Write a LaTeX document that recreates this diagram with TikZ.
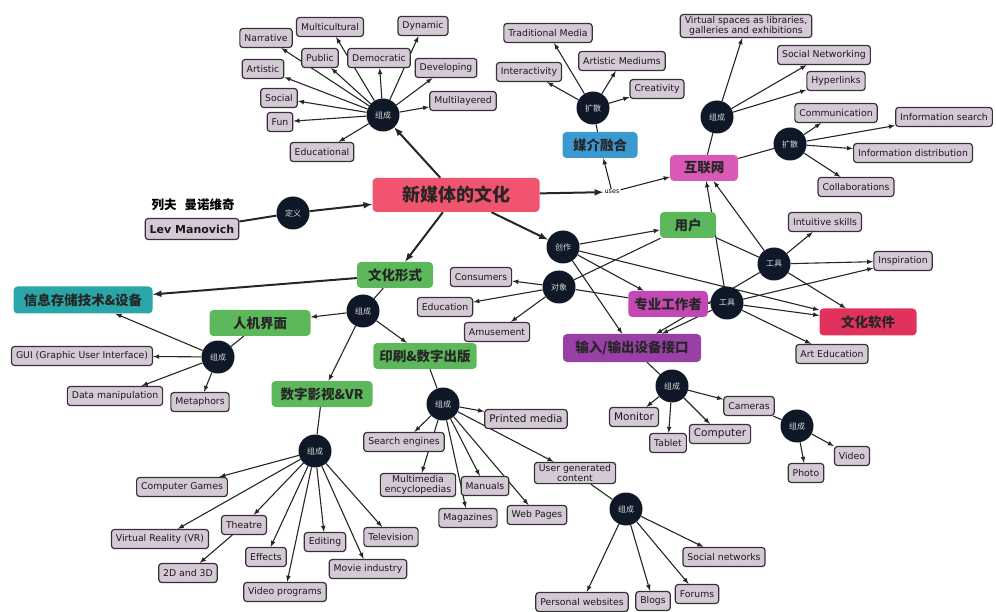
\documentclass[tikz,border=0pt]{standalone}
\usepackage{fontspec}
\setmainfont{DejaVu Sans}
\newfontfamily\cjk{Noto Sans CJK SC}
\usetikzlibrary{arrows}
\pgfdeclarelayer{background}
\pgfsetlayers{background,main}

\definecolor{leafgray}{RGB}{214,201,215}
\definecolor{hubnavy}{RGB}{14,24,38}
\definecolor{corered}{RGB}{240,84,110}
\definecolor{mediablue}{RGB}{58,154,208}
\definecolor{netpink}{RGB}{218,88,182}
\definecolor{formgreen}{RGB}{92,184,90}
\definecolor{storeteal}{RGB}{42,166,168}
\definecolor{promagenta}{RGB}{196,72,180}
\definecolor{iopurple}{RGB}{152,64,166}
\definecolor{softcrimson}{RGB}{224,50,92}

\begin{document}
\begin{tikzpicture}[x=1pt,y=-1pt,
    leaf/.style={draw=black!80, line width=1.2pt, fill=leafgray, rounded corners=3pt,
        font=\fontsize{9.3}{10}\selectfont, text=black!90, inner xsep=4.5pt, inner ysep=2pt,
        minimum height=19pt, align=center},
    bigleaf/.style={leaf, font=\fontsize{10.5}{11}\selectfont},
    hub/.style={circle, fill=hubnavy, minimum size=33pt, inner sep=0pt,
        text=white!72!gray, font=\cjk\fontsize{8}{8}\selectfont},
    topic/.style={fill=#1, rounded corners=4pt, minimum height=26pt, inner xsep=6pt,
        font=\cjk\bfseries\fontsize{13.5}{14}\selectfont, text=black!85},
    arr/.style={-latex, line width=1.1pt, draw=black!85},
    bigarr/.style={-latex, line width=2pt, draw=black!85},
    tie/.style={line width=1.1pt, draw=black!85}]

\useasboundingbox (0,0) rectangle (996,612);

% central concept
\node[topic=corered, minimum width=167pt, minimum height=34pt,
      font=\cjk\bfseries\fontsize{18}{19}\selectfont] (nmc) at (456,195) {新媒体的文化};

% definition
\node[font=\cjk\bfseries\fontsize{12.5}{13}\selectfont] (levcn) at (193,205) {列夫\hspace{8pt}曼诺维奇};
\node[leaf, font=\bfseries\fontsize{11}{12}\selectfont, minimum height=21pt] (lev) at (192,229) {Lev Manovich};
\node[hub] (dy) at (293,213) {定义};

% upper composition
\node[hub] (zcTop) at (383,115) {组成};
\node[leaf] (narr) at (266,38) {Narrative};
\node[leaf] (mcul) at (330,27) {Multicultural};
\node[leaf] (dyna) at (423,26) {Dynamic};
\node[leaf] (publ) at (320,58) {Public};
\node[leaf] (demo) at (379,58) {Democratic};
\node[leaf] (arti) at (263,69) {Artistic};
\node[leaf] (deve) at (446,68) {Developing};
\node[leaf] (soci) at (279,98) {Social};
\node[leaf] (mlay) at (463,101) {Multilayered};
\node[leaf] (fun) at (280,122) {Fun};
\node[leaf] (educ) at (322,152) {Educational};

% media convergence
\node[font=\fontsize{6.5}{7}\selectfont, inner sep=1pt] (uses) at (612,192) {uses};
\node[topic=mediablue, minimum width=75pt] (mjrh) at (600,145) {媒介融合};
\node[hub] (ksMedia) at (593,108) {扩散};
\node[leaf] (trad) at (548,33) {Traditional Media};
\node[leaf] (intr) at (529,72) {Interactivity};
\node[leaf] (amed) at (622,61) {Artistic Mediums};
\node[leaf] (crea) at (657,89) {Creativity};

% internet
\node[topic=netpink, minimum width=68pt] (hlw) at (704,168) {互联网};
\node[hub] (zcNet) at (717,117) {组成};
\node[leaf] (vspc) at (746,26) {Virtual spaces as libraries,\\galleries and exhibitions};
\node[leaf] (snet) at (824,55) {Social Networking};
\node[leaf] (hypl) at (836,81) {Hyperlinks};
\node[hub] (ksNet) at (790,144) {扩散};
\node[leaf] (comm) at (836,113) {Communication};
\node[leaf] (isea) at (944,117) {Information search};
\node[leaf] (idis) at (913,153) {Information distribution};
\node[leaf] (coll) at (856,187) {Collaborations};

% cultural forms
\node[topic=formgreen, minimum width=76pt] (whxs) at (395,275) {文化形式};
\node[topic=storeteal, minimum width=139pt, minimum height=27pt] (xxcc) at (83,300) {信息存储技术\&设备};
\node[hub] (zcForm) at (363,311) {组成};
\node[topic=formgreen, minimum width=101pt] (rjjm) at (260,323) {人机界面};
\node[topic=formgreen, minimum width=101pt] (yscb) at (425,356) {印刷\&数字出版};
\node[topic=formgreen, minimum width=101pt] (szys) at (322,394) {数字影视\&VR};

% interface
\node[hub] (zcHci) at (218,357) {组成};
\node[leaf] (gui) at (82,356) {GUI (Graphic User Interface)};
\node[leaf] (datm) at (115,396) {Data manipulation};
\node[leaf] (meta) at (200,402) {Metaphors};

% film and VR
\node[hub] (zcFilm) at (315,451) {组成};
\node[leaf] (cgam) at (182,487) {Computer Games};
\node[leaf] (vr) at (160,539) {Virtual Reality (VR)};
\node[leaf] (thea) at (244,525) {Theatre};
\node[leaf] (twod) at (188,573) {2D and 3D};
\node[leaf] (effe) at (266,557) {Effects};
\node[leaf] (edit) at (325,542) {Editing};
\node[leaf] (tele) at (391,537) {Television};
\node[leaf] (movi) at (368,569) {Movie industry};
\node[leaf] (vidp) at (285,592) {Video programs};

% publishing
\node[hub] (zcPub) at (443,404) {组成};
\node[bigleaf] (prin) at (526,419) {Printed media};
\node[leaf] (sear) at (404,442) {Search engines};
\node[leaf] (mmen) at (418,485) {Multimedia\\encyclopedias};
\node[leaf] (manu) at (485,486) {Manuals};
\node[leaf] (maga) at (468,518) {Magazines};
\node[leaf] (webp) at (537,515) {Web Pages};
\node[leaf] (ugc) at (575,473) {User generated\\content};
\node[hub] (zcUgc) at (626,509) {组成};
\node[leaf] (pweb) at (582,602) {Personal websites};
\node[leaf] (blog) at (653,601) {Blogs};
\node[leaf] (foru) at (697,594) {Forums};
\node[leaf] (sntw) at (724,557) {Social networks};

% creation side
\node[hub] (cz) at (563,247) {创作};
\node[hub] (dx) at (559,287) {对象};
\node[leaf] (cons) at (481,277) {Consumers};
\node[leaf] (edu) at (445,307) {Education};
\node[leaf] (amus) at (497,332) {Amusement};
\node[topic=formgreen, minimum width=56pt] (yh) at (688,225) {用户};
\node[topic=promagenta, minimum width=77pt] (zygz) at (668,304) {专业工作者};
\node[hub] (gjPro) at (727,303) {工具};
\node[hub] (gjUser) at (774,264) {工具};
\node[topic=iopurple, minimum width=138pt, minimum height=28pt] (srsc) at (632,348) {输入/输出设备接口};
\node[topic=softcrimson, minimum width=97pt, minimum height=27pt] (whrj) at (868,322) {文化软件};
\node[leaf] (intu) at (825,222) {Intuitive skills};
\node[leaf] (insp) at (903,261) {Inspiration};
\node[leaf] (arte) at (832,354) {Art Education};

% devices
\node[hub] (zcIo) at (672,386) {组成};
\node[bigleaf] (moni) at (634,417) {Monitor};
\node[leaf] (tabl) at (668,443) {Tablet};
\node[bigleaf] (comp) at (720,434) {Computer};
\node[leaf] (came) at (749,406) {Cameras};
\node[hub] (zcCam) at (797,426) {组成};
\node[leaf] (vide) at (852,456) {Video};
\node[leaf] (phot) at (806,473) {Photo};

\begin{pgfonlayer}{background}
    \draw[bigarr] (nmc) -- (zcTop);
    \draw[line width=2pt, draw=black!85] (lev) -- (dy);
    \draw[bigarr] (dy) -- (nmc);
    \draw[bigarr] (nmc) -- (uses);
    \draw[bigarr] (nmc) -- (whxs);
    \draw[bigarr] (nmc) -- (cz);
    \draw[bigarr] (whxs) -- (xxcc);

    \foreach \t in {narr,mcul,dyna,publ,demo,arti,deve,soci,mlay,fun,educ}
        \draw[arr] (zcTop) -- (\t);

    \draw[arr] (uses) -- (hlw);
    \draw[arr] (uses) -- (mjrh);
    \draw[tie] (mjrh) -- (ksMedia);
    \foreach \t in {trad,intr,amed,crea}
        \draw[arr] (ksMedia) -- (\t);

    \draw[tie] (hlw) -- (zcNet);
    \foreach \t in {vspc,snet,hypl}
        \draw[arr] (zcNet) -- (\t);
    \draw[tie] (hlw) -- (ksNet);
    \foreach \t in {comm,isea,idis,coll}
        \draw[arr] (ksNet) -- (\t);

    \draw[tie] (whxs) -- (zcForm);
    \foreach \t in {rjjm,yscb,szys}
        \draw[arr] (zcForm) -- (\t);

    \draw[tie] (rjjm) -- (zcHci);
    \foreach \t in {xxcc,gui,datm,meta}
        \draw[arr] (zcHci) -- (\t);

    \draw[tie] (szys) -- (zcFilm);
    \foreach \t in {cgam,vr,thea,effe,vidp,edit,movi,tele}
        \draw[arr] (zcFilm) -- (\t);
    \draw[arr] (thea) -- (twod);

    \draw[tie] (yscb) -- (zcPub);
    \foreach \t in {prin,sear,mmen,manu,maga,webp,ugc}
        \draw[arr] (zcPub) -- (\t);
    \draw[tie] (ugc) -- (zcUgc);
    \foreach \t in {pweb,blog,foru,sntw}
        \draw[arr] (zcUgc) -- (\t);

    \foreach \t in {yh,zygz,srsc,whrj}
        \draw[arr] (cz) -- (\t);
    \draw[tie] (yh) -- (dx);
    \draw[tie] (zygz) -- (dx);
    \foreach \t in {cons,edu,amus}
        \draw[arr] (dx) -- (\t);

    \draw[tie] (yh) -- (gjUser);
    \foreach \t in {hlw,intu,insp,whrj,srsc}
        \draw[arr] (gjUser) -- (\t);
    \draw[tie] (zygz) -- (gjPro);
    \foreach \t in {hlw,insp,whrj,arte,srsc}
        \draw[arr] (gjPro) -- (\t);

    \draw[tie] (srsc) -- (zcIo);
    \foreach \t in {moni,tabl,comp,came}
        \draw[arr] (zcIo) -- (\t);
    \draw[tie] (came) -- (zcCam);
    \foreach \t in {phot,vide}
        \draw[arr] (zcCam) -- (\t);
\end{pgfonlayer}

\end{tikzpicture}
\end{document}
